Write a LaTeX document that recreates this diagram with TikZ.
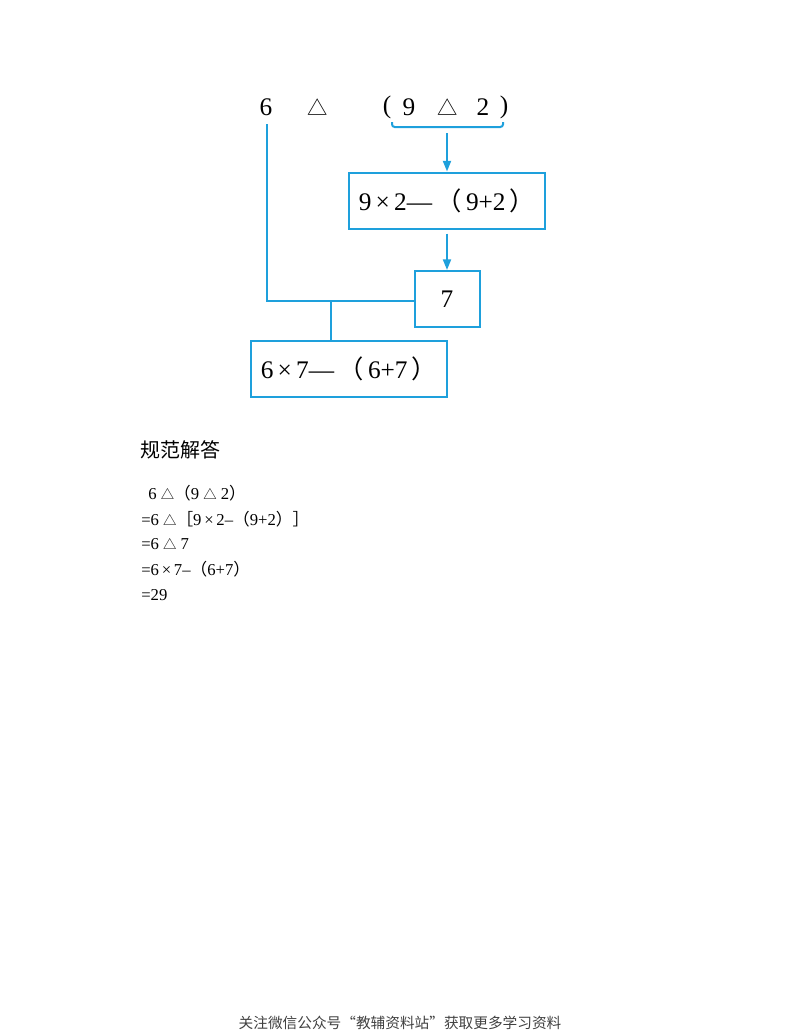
\documentclass[tikz,border=0pt]{standalone}
\usepackage{fontspec}
\setmainfont{Liberation Serif}
\newfontfamily\cjk{Noto Sans CJK SC}
\usetikzlibrary{arrows.meta,calc}
\definecolor{bl}{RGB}{30,160,220}
\newcommand\tri{{\cjk\scalebox{0.8}{△}}}
\newcommand\flp{{\cjk （}}
\newcommand\frp{{\cjk ）}}
\newcommand\flb{{\cjk ［}}
\newcommand\frb{{\cjk ］}}
\begin{document}
\begin{tikzpicture}[x=0.75pt,y=-0.75pt,
  bx/.style={draw=bl,line width=1.5pt,minimum height=42pt,inner sep=0pt},
  big/.style={font=\fontsize{19}{22}\selectfont,inner sep=0pt},
  ln/.style={draw=bl,line width=1.5pt},
  ar/.style={ln,-{Triangle[length=8pt,width=6pt]}},
  sol/.style={font=\fontsize{12.5}{14}\selectfont,anchor=west,inner sep=0pt}]
\useasboundingbox (0,0) rectangle (800,1035);
\node[big] (six) at (266,107) {6};
\node[big] (t1) at (318,107) {\tri};
\node[big] (lp) at (387,107) {(};
\node[big] (nine) at (409,107) {9};
\node[big] (t2) at (448,107) {\tri};
\node[big] (two) at (483,107) {2};
\node[big] (rp) at (504,107) {)};
\coordinate (bl) at (392,122); \coordinate (br) at (503,122);
\coordinate (bm) at (447,133);
\draw[ln,rounded corners=2pt] (bl) -- (392,127) -- (503,127) -- (br);
\node[bx,minimum width=147pt] (b1) at (447,200.5) {};
\node[big] at (b1) {9\,×\,2—\,\flp\,9+2\,\frp};
\node[bx,minimum width=48.75pt] (b2) at (447,299) {};
\node[big] at (b2) {7};
\node[bx,minimum width=147pt] (b3) at (349,369) {};
\node[big] at (b3) {6\,×\,7—\,\flp\,6+7\,\frp};
\draw[ar] (bm) -- (b1.north);
\draw[ar] ($(b1.south)+(0,4)$) -- (b2.north);
\coordinate (c1) at (267,301);
\coordinate (c2) at (331,301);
\draw[ln] (267,124) -- (c1) -- (b2.west |- c1);
\draw[ln] (c2) -- (b3.north -| c2);
\node[font=\cjk\fontsize{15}{18}\selectfont,anchor=west,inner sep=0pt] (h) at (140,450) {规范解答};
\node[sol] (s1) at (148,493) {6 \tri\flp 9 \tri\ 2\frp};
\node[sol] (s2) at (141,519) {=6 \tri\flb 9\,×\,2–\flp 9+2\frp\frb};
\node[sol] (s3) at (141,544) {=6 \tri\ 7};
\node[sol] (s4) at (141,569) {=6\,×\,7–\flp 6+7\frp};
\node[sol] (s5) at (141,595) {=29};
\node[font=\cjk\fontsize{11}{13}\selectfont,text=black!75,inner sep=0pt] (f) at (400,1023) {关注微信公众号“教辅资料站”获取更多学习资料};
\end{tikzpicture}
\end{document}
